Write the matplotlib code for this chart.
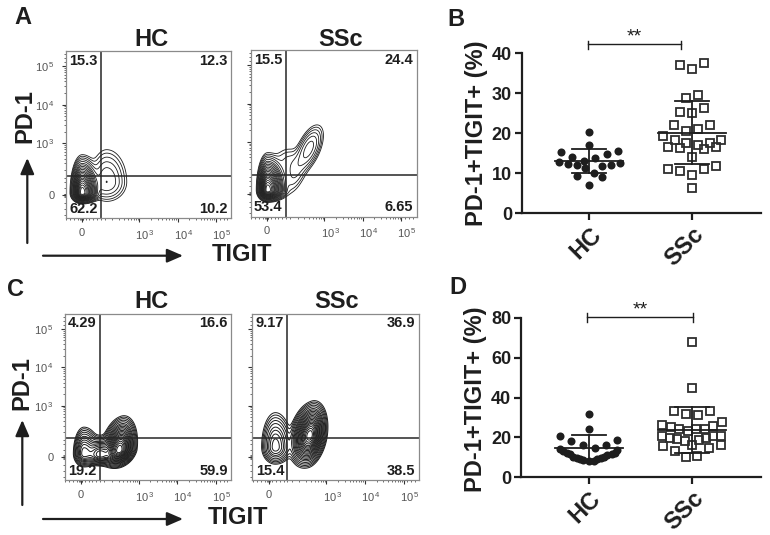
import numpy as np
import matplotlib
matplotlib.use("Agg")
import matplotlib.pyplot as plt
from matplotlib.patches import FancyArrowPatch
from matplotlib.transforms import ScaledTranslation

plt.rcParams['font.family'] = ['Liberation Sans', 'DejaVu Sans']
plt.rcParams['mathtext.fontset'] = 'custom'
plt.rcParams['mathtext.rm'] = 'Liberation Sans'
plt.rcParams['mathtext.default'] = 'rm'

W, H = 770, 535
DARK = '#1e1e1e'

# ---- flow-plot data: gate percentages (UL, UR, LL, LR) -----------------
a_hc_pct = ['15.3', '12.3', '62.2', '10.2']
a_ssc_pct = ['15.5', '24.4', '53.4', '6.65']
c_hc_pct = ['4.29', '16.6', '19.2', '59.9']
c_ssc_pct = ['9.17', '36.9', '15.4', '38.5']

# density lobes:
# x, y, sx_left, sx_right, sy_up, sy_down, rho, weight (log-decade channels)
a_hc_lobes = [(1.51, 1.72, .097, .15, .30, .088, 0, 1.0),
              (2.15, 2.00, .20, .25, .40, .24, 0, .04)]
a_ssc_lobes = [(1.52, 1.75, .09, .16, .295, .097, 0, 1.0),
               (2.60, 2.83, .17, .17, .28, .28, .55, .05),
               (2.25, 2.20, .18, .18, .33, .33, .55, .014),
               (2.05, 2.50, .20, .20, .22, .30, 0, .012)]
c_hc_lobes = [(1.58, 1.75, .10, .15, .25, .127, 0, .2),
              (2.50, 1.84, .16, .143, .273, .146, .25, 1.0),
              (2.00, 1.72, .15, .15, .17, .10, 0, .3)]
c_ssc_lobes = [(1.68, 1.92, .14, .165, .35, .175, 0, .12),
               (2.57, 2.22, .17, .143, .277, .26, .25, 1.0)]
contour_levels = [.0045, .007, .011, .017, .026, .04, .055, .075, .1, .13, .17, .21, .26, .32, .38, .45, .52, .6, .7, .8, .9]

x_major_ticks = [1.5, 3, 4, 5]
y_major_ticks = [1.66, 3, 4, 5]
x_tick_labels = ['0', '10$^{\\,3}$', '10$^{\\,4}$', '10$^{\\,5}$']
y_tick_labels = ['0', '10$^{\\,3}$', '10$^{\\,4}$', '10$^{\\,5}$']
gate_x, gate_y = 1.99, 2.15

# ---- scatter data -------------------------------------------------------
b_hc_dx = [0, 0, -.278, .278, .168, -.168, .058, -.052, -.291, .298, -.207, -.123, .126, .21, -.039, .042, -.117, .12, 0]
b_hc_y = [20.4, 17.1, 15.4, 15.7, 14.9, 14.2, 13.8, 13.1, 12.9, 12.7, 12.4, 12.2, 11.9, 12.2, 11.4, 10.2, 9.3, 9.2, 7.0]
b_ssc_dx = [-.117, .117, 0, .055, -.058, .117, -.117, 0, -.175, .172, -.058, .055, -.282, -.168, .278, .172, -.058, .055,
            -.233, -.12, .23, .117, 0, -.233, -.117, .117, .23, 0, 0]
b_ssc_y = [37.2, 37.5, 36, 29.7, 28.8, 26.3, 25.4, 25, 22, 22.2, 20.7, 21, 19.3, 18.3, 18.3, 17.7, 17.5, 17.2,
           16.7, 16.3, 16.7, 16, 14, 11.2, 10.7, 11, 11.8, 9.6, 6.3]
d_hc_dx = [0, 0, -.278, .278, -.168, -.052, .168, .058, -.278, -.246, -.214, -.181, -.149, -.117, -.084, -.052, 0,
           .052, .084, .117, .149, .181, .22, .252, .278]
d_hc_y = [31.7, 24.2, 20.5, 18.7, 18.4, 16.2, 16.4, 14.7, 14.2, 13.2, 12.4, 11.5, 10.4, 9.8, 9.2, 8.7, 8.0,
          8.3, 9.2, 9.8, 10.4, 11.2, 11.5, 12.4, 13.7]
d_ssc_dx = [0, 0, -.175, .172, -.058, .055, .291, -.291, -.207, .207, -.126, .123, -.042, .039, -.288, -.21, .282, .204,
            -.142, .139, -.068, .068, -.285, .278, 0, .162, -.168, -.058, .052]
d_ssc_y = [68, 45, 33, 33, 31.6, 31, 27.5, 26, 25.2, 25.5, 24.4, 24.4, 23.4, 24, 20.7, 19.9, 20.7, 20.7,
           19.4, 19.5, 18.4, 18.7, 15.7, 16, 16, 14.5, 13.2, 10, 10.8]
# mean, upper, lower
b_hc_stats = (13.2, 16.2, 10.0)
b_ssc_stats = (20.2, 28.2, 12.3)
d_hc_stats = (14.8, 21.0, 8.5)
d_ssc_stats = (23.5, 35.2, 12.0)
groups = ['HC', 'SSc']

fig = plt.figure(figsize=(W / 100, H / 100), dpi=100)


def px_axes(l, t, r, b):
    return fig.add_axes([l / W, 1 - b / H, (r - l) / W, (b - t) / H])


def arrow(x0, y0, x1, y1):
    fig.add_artist(FancyArrowPatch(
        (x0 / W, 1 - y0 / H), (x1 / W, 1 - y1 / H), transform=fig.transFigure,
        arrowstyle='-|>,head_length=0.6,head_width=0.26', mutation_scale=16, lw=1.6, color=DARK,
        shrinkA=0, shrinkB=0))


def label(x, y, s, size=16, rot=0):
    fig.text(x / W, 1 - y / H, s, fontsize=size, rotation=rot, fontweight='bold', ha='center', va='center', color=DARK)


def density(X, Y, lobes):
    Z = np.zeros_like(X)
    for x0, y0, sxl, sxr, syu, syd, rho, w in lobes:
        u = (X - x0) / np.where(X < x0, sxl, sxr)
        v = (Y - y0) / np.where(Y > y0, syu, syd)
        Z += w * np.exp(-(u * u - 2 * rho * u * v + v * v) / (2 * (1 - rho * rho)))
    return Z


def flow(box, lobes, pct, title, title_x, title_y, show_y, lw):
    l, t, r, b = box
    ax = px_axes(l, t, r, b)
    X, Y = np.meshgrid(np.linspace(1.05, 5.4, 700), np.linspace(1.05, 5.4, 700))
    ax.contour(X, Y, density(X, Y, lobes), levels=contour_levels, colors='#1c1c1c', linewidths=lw)
    ax.set_xlim(1.08, 5.4)
    ax.set_ylim(1.06, 5.39)
    ax.axvline(gate_x, color='#262626', lw=1.1)
    ax.axhline(gate_y, color='#262626', lw=1.1)
    for s in ax.spines.values():
        s.set_color('#8a8a8a')
        s.set_linewidth(0.9)
    decades = [np.log10(m) + d for d in (3, 4) for m in range(2, 10)] + [5.1, 5.2, 5.3]
    x_minor = decades + [2.3, 2.48, 2.6, 2.7, 2.78, 2.85, 2.91, 2.96, 1.1, 1.2, 1.3, 1.4, 1.46, 1.48, 1.52, 1.54,
                         1.6, 1.7, 1.8, 1.9, 1.99, 2.1]
    y_minor = decades + [2.3, 2.48, 2.6, 2.7, 2.78, 2.85, 2.91, 2.96, 1.15, 1.3, 1.45, 1.62, 1.64, 1.68, 1.7,
                         1.85, 2.0, 2.1]
    ax.xaxis.set_ticks(x_major_ticks)
    ax.xaxis.set_ticklabels(x_tick_labels)
    ax.xaxis.set_ticks(x_minor, minor=True)
    ax.yaxis.set_ticks(y_major_ticks)
    ax.yaxis.set_ticklabels(y_tick_labels if show_y else [])
    ax.yaxis.set_ticks(y_minor, minor=True)
    ax.tick_params(which='major', length=3, width=0.8, color='#333333', labelsize=8,
                   labelcolor='#555555', direction='out')
    ax.tick_params(axis='x', which='major', pad=4)
    ax.tick_params(axis='y', which='major', pad=5)
    ax.tick_params(which='minor', length=1.6, width=0.5, color='#333333', direction='out')
    off = ScaledTranslation(6 / 100, 0, fig.dpi_scale_trans)
    for t_lab in ax.get_xticklabels()[1:]:
        t_lab.set_transform(t_lab.get_transform() + off)
    kw = dict(transform=ax.transAxes, fontsize=10.5, fontweight='bold', color=DARK)
    ax.text(0.02, 0.985, pct[0], va='top', ha='left', **kw)
    ax.text(0.98, 0.985, pct[1], va='top', ha='right', **kw)
    ax.text(0.02, 0.015, pct[2], va='bottom', ha='left', **kw)
    ax.text(0.98, 0.015, pct[3], va='bottom', ha='right', **kw)
    label(title_x, title_y, title, size=17)


def dots(box, ylim, yticks, hc, ssc, hc_stats, ssc_stats, bracket, caps, star_y, bracket_right, star_x):
    l, t, r, b = box
    ax = px_axes(l, t, r, b)
    ax.set_xlim(0.344, 2.664)
    ax.set_ylim(*ylim)
    ax.patch.set_alpha(0)
    for s in ('top', 'right'):
        ax.spines[s].set_visible(False)
    for s in ('left', 'bottom'):
        ax.spines[s].set_linewidth(1.6)
        ax.spines[s].set_color(DARK)
    ax.set_xticks([1, 2])
    ax.set_xticklabels(groups, rotation=45, ha='right', rotation_mode='anchor', fontsize=17, fontweight='bold', color=DARK)
    ax.set_yticks(yticks)
    ax.tick_params(axis='y', length=5, width=1.6, color=DARK, labelsize=13, labelcolor=DARK, pad=2)
    ax.tick_params(axis='x', length=5, width=1.6, color=DARK, pad=2)
    for t_lab in ax.get_yticklabels():
        t_lab.set_fontweight('bold')
    ax.plot(1 + np.array(hc[0]), hc[1], 'o', ms=5.8, color=DARK, mew=0, clip_on=False, zorder=3)
    ax.plot(2 + np.array(ssc[0]), ssc[1], 's', ms=6.2, mfc='none', mec='#2e2e2e', mew=1.3, clip_on=False, zorder=3)
    for xc, (m, u, lo) in ((1, hc_stats), (2, ssc_stats)):
        ax.plot([xc, xc], [lo, u], color=DARK, lw=1.3, zorder=4)
        ax.plot([xc - .33, xc + .33], [m, m], color=DARK, lw=1.3, zorder=4)
        for v in (u, lo):
            ax.plot([xc - .165, xc + .165], [v, v], color=DARK, lw=1.3, zorder=4)
    ax.plot([.985, bracket_right], [bracket, bracket], color=DARK, lw=1, clip_on=False)
    for xb in (.985, bracket_right):
        ax.plot([xb, xb], caps, color=DARK, lw=1, clip_on=False)
    ax.text(star_x, star_y, '**', fontsize=14, ha='center', va='center', color=DARK, clip_on=False)


flow((65.7, 51, 231.3, 218.3), a_hc_lobes, a_hc_pct, 'HC', 151, 39, True, .6)
flow((250.7, 50, 416.7, 216.7), a_ssc_lobes, a_ssc_pct, 'SSc', 341, 39, False, .6)
flow((64.7, 314, 231.3, 480), c_hc_lobes, c_hc_pct, 'HC', 151.5, 302, True, .7)
flow((252.3, 314, 419, 480), c_ssc_lobes, c_ssc_pct, 'SSc', 337, 302, False, .7)

dots((521.7, 53.3, 760.7, 213.3), (0, 40), [0, 10, 20, 30, 40], (b_hc_dx, b_hc_y), (b_ssc_dx, b_ssc_y),
     b_hc_stats, b_ssc_stats, 42.25, (41.0, 43.2), 44.0, 1.895, 1.44)
dots((521.0, 317.7, 760.7, 477.3), (0, 80), [0, 20, 40, 60, 80], (d_hc_dx, d_hc_y), (d_ssc_dx, d_ssc_y),
     d_hc_stats, d_ssc_stats, 80.3, (78.0, 82.5), 84.0, 2.01, 1.5)

label(23, 17, 'A', size=17)
label(455.7, 20, 'B', size=17)
label(15.7, 289, 'C', size=17)
label(458, 287, 'D', size=17)

label(25, 116, 'PD-1', size=17, rot=90)
label(21.7, 382.7, 'PD-1', size=17, rot=90)
label(242, 255, 'TIGIT', size=17)
label(238, 518, 'TIGIT', size=17)
label(476, 133, 'PD-1+TIGIT+ (%)', size=17, rot=90)
label(475, 399, 'PD-1+TIGIT+ (%)', size=17, rot=90)

arrow(27.3, 243, 27.3, 158)
arrow(43, 255.7, 183, 255.7)
arrow(22.3, 505, 22.3, 420)
arrow(43, 519, 183, 519)

fig.savefig('out.png', dpi=100)
